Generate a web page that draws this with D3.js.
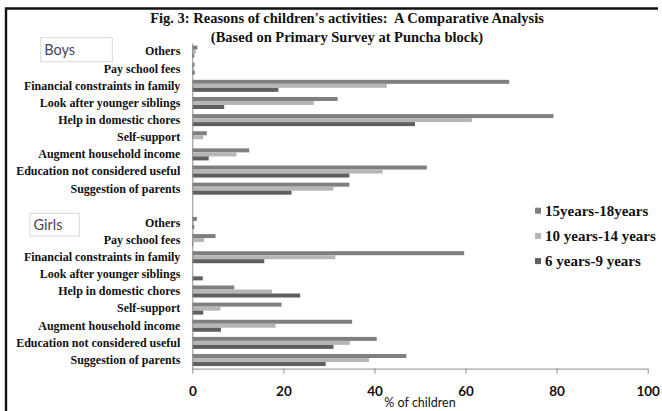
<!DOCTYPE html>
<html>
<head>
<meta charset="utf-8">
<script src="https://cdn.jsdelivr.net/npm/d3@7"></script>
<style>
  html, body { margin: 0; padding: 0; background: #fff; }
  svg { display: block; }
  .title { white-space: pre; }
</style>
</head>
<body>
<svg id="chart" width="662" height="411"></svg>
<script>
// Reasons given, the same list for each group
const reasons = [
  "Others",
  "Pay school fees",
  "Financial constraints in family",
  "Look after younger siblings",
  "Help in domestic chores ",
  "Self-support",
  "Augment household income",
  "Education not considered useful",
  "Suggestion of parents"
];
const groups = ["Boys", "Girls"];
const series = ["15years-18years", "10 years-14 years", "6 years-9 years"];
const seriesColors = ["#7f7f7f", "#b6b6b6", "#5f5f5f"];

// % of children, boys
const boys15 = [1.1, 0.5, 69.6, 31.9, 79.3, 3.2, 12.5, 51.5, 34.5];
const boys10 = [0.8, 0.3, 42.7, 26.7, 61.4, 2.4, 9.7, 41.8, 31.0];
const boys6  = [0.4, 0.5, 18.9, 7.0, 48.9, 0.0, 3.6, 34.5, 21.8];
// % of children, girls
const girls15 = [1.0, 5.1, 59.7, 0.0, 9.2, 19.6, 35.1, 40.5, 47.0];
const girls10 = [0.3, 2.6, 31.4, 0.0, 17.5, 6.2, 18.3, 34.6, 38.8];
const girls6  = [0.4, 0.2, 15.8, 2.3, 23.7, 2.4, 6.3, 31.0, 29.3];

const xTicks = [0, 20, 40, 60, 80, 100];
const xTitle = "% of children";
const titleLines = [
  "Fig. 3: Reasons of children's activities:  A Comparative Analysis",
  "(Based on Primary Survey at Puncha block)"
];

// Rows: boys' reasons, one empty row, girls' reasons
const rowKeys = [
  ...reasons.map(r => "Boys|" + r),
  "gap",
  ...reasons.map(r => "Girls|" + r)
];
const seriesByGroup = {
  Boys: [boys15, boys10, boys6],
  Girls: [girls15, girls10, girls6]
};
const rows = [];
groups.forEach(g => {
  reasons.forEach((r, i) => {
    rows.push({
      key: g + "|" + r,
      values: series.map((s, j) => ({ series: s, value: seriesByGroup[g][j][i] }))
    });
  });
});

const svg = d3.select("#chart");
const plot = { left: 192.3, right: 647.7, top: 43, bottom: 368.6 };

const x = d3.scaleLinear().domain([0, 100]).range([plot.left, plot.right]);
const y0 = d3.scaleBand().domain(rowKeys).range([plot.top, plot.bottom]).padding(0);
const y1 = d3.scaleBand().domain(series).range([0, y0.bandwidth()])
  .paddingInner(0).paddingOuter(0.64);
const color = d3.scaleOrdinal().domain(series).range(seriesColors);

// outer frame (top and left edges)
svg.append("path")
  .attr("d", "M6,411 L6,8.5 L658,8.5")
  .attr("fill", "none").attr("stroke", "#111").attr("stroke-width", 2.4);

// title
svg.append("g").selectAll("text").data(titleLines).join("text")
  .attr("class", "title")
  .attr("x", 347).attr("y", (d, i) => 23 + i * 19)
  .attr("text-anchor", "middle")
  .attr("font-family", "'Liberation Serif', 'Times New Roman', serif")
  .attr("font-weight", "bold").attr("font-size", 14.5)
  .attr("fill", "#111")
  .text(d => d);

// bars
const rowG = svg.append("g").selectAll("g").data(rows).join("g")
  .attr("transform", d => `translate(0,${y0(d.key)})`);
rowG.selectAll("rect").data(d => d.values).join("rect")
  .attr("x", x(0))
  .attr("y", d => y1(d.series))
  .attr("width", d => x(d.value) - x(0))
  .attr("height", y1.bandwidth())
  .attr("fill", d => color(d.series));

// category axis
const yAxis = svg.append("g")
  .attr("transform", `translate(${plot.left},0)`)
  .call(d3.axisLeft(y0).tickSize(0).tickPadding(12)
    .tickFormat(k => k === "gap" ? "" : k.split("|")[1]));
yAxis.select(".domain").attr("stroke", "#8c8c8c").attr("stroke-width", 1);
yAxis.selectAll("text")
  .attr("font-family", "'Liberation Serif', 'Times New Roman', serif")
  .attr("font-weight", "bold").attr("font-size", 12)
  .attr("fill", "#111");

// value axis
const xAxis = svg.append("g")
  .attr("transform", `translate(0,${plot.bottom})`)
  .call(d3.axisBottom(x).tickValues(xTicks).tickSize(5).tickSizeOuter(0).tickPadding(13));
xAxis.select(".domain").attr("stroke", "#8c8c8c").attr("stroke-width", 1);
xAxis.selectAll(".tick line").attr("stroke", "#8c8c8c");
xAxis.selectAll("text")
  .attr("font-family", "Lato, 'Open Sans', sans-serif")
  .attr("font-weight", "bold").attr("font-size", 13.5)
  .attr("fill", "#111");

svg.append("text")
  .attr("x", (plot.left + plot.right) / 2).attr("y", 407)
  .attr("text-anchor", "middle")
  .attr("font-family", "Lato, 'Open Sans', sans-serif")
  .attr("font-size", 12.5).attr("fill", "#111")
  .text(xTitle);

// group tags
const tags = [
  { name: groups[0], x: 40.7, y: 37.7, w: 71.6, h: 24 },
  { name: groups[1], x: 30, y: 213.3, w: 49.3, h: 22.7 }
];
const tagG = svg.append("g").selectAll("g").data(tags).join("g");
tagG.append("rect")
  .attr("x", d => d.x).attr("y", d => d.y)
  .attr("width", d => d.w).attr("height", d => d.h)
  .attr("fill", "#fff").attr("stroke", "#d9d9d9").attr("stroke-width", 1);
tagG.append("text")
  .attr("x", d => d.x + 3.5).attr("y", d => d.y + d.h / 2)
  .attr("dy", "0.35em")
  .attr("font-family", "Lato, 'Open Sans', sans-serif")
  .attr("font-size", 14.5).attr("fill", "#44465a")
  .text(d => d.name);

// legend
const legend = svg.append("g").selectAll("g").data(series).join("g")
  .attr("transform", (d, i) => `translate(535,${210.7 + i * 25.2})`);
legend.append("rect")
  .attr("x", 0).attr("y", -3).attr("width", 6).attr("height", 6)
  .attr("fill", d => color(d));
legend.append("text")
  .attr("x", 10).attr("y", 0).attr("dy", "0.35em")
  .attr("font-family", "'Liberation Serif', 'Times New Roman', serif")
  .attr("font-weight", "bold").attr("font-size", 15)
  .attr("fill", "#111")
  .text(d => d);
</script>
</body>
</html>
